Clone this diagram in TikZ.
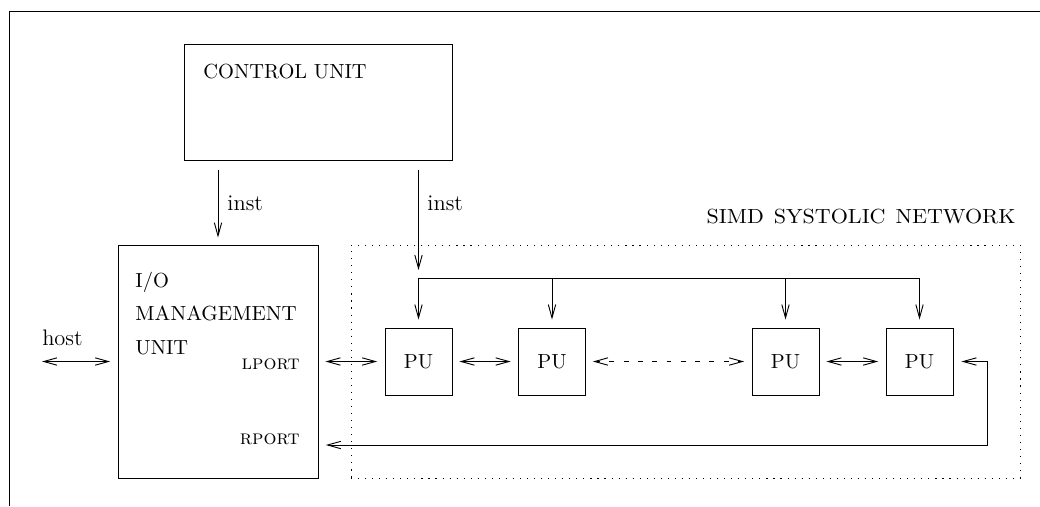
\documentclass[tikz,border=0pt]{standalone}
\usetikzlibrary{arrows.meta}
\begin{document}
\begin{tikzpicture}[x=0.49pt,y=-0.49pt,
  line width=0.45pt,
  >={Straight Barb[length=6.5pt,width=3.6pt]},
  box/.style={draw,rectangle,inner sep=0pt},
  pubox/.style={box,minimum width=32.83pt,minimum height=32.83pt},
  lbl/.style={inner sep=0pt},
  biglbl/.style={lbl,font=\fontsize{11}{13}\selectfont},
  dotbox/.style={draw,rectangle,inner sep=0pt,dash pattern=on 0.55pt off 2.9pt},
  gapS/.style={shorten <=3.4pt},
  gapE/.style={shorten >=3.6pt}]
\useasboundingbox (0,0) rectangle (1040,506);
% frame (cropped)
\draw (9,506) -- (9,11) -- (1040,11);
% boxes
\node[box,minimum width=131.32pt,minimum height=56.84pt] (cu) at (318,102) {};
\node[lbl,anchor=base west] (cutext) at (203,78) {CONTROL UNIT};
\node[box,minimum width=98pt,minimum height=114.17pt] (io) at (218,361.5) {};
\node[lbl,anchor=base west] (io1) at (135,287) {I/O};
\node[lbl,anchor=base west] (io2) at (135,320.5) {\scalebox{1.03}[1]{MANAGEMENT}};
\node[lbl,anchor=base west] (io3) at (135,354) {UNIT};
\node[lbl,anchor=base east] (lport) at (300,369.5) {\textsc{lport}};
\node[lbl,anchor=base east] (rport) at (300,444) {\textsc{rport}};
\node[dotbox,minimum width=327.81pt,minimum height=114.17pt] (sys) at (685.5,361.5) {};
\node[lbl,anchor=base east] (systext) at (1016,223) {\scalebox{1.08}[1]{SIMD\hspace{4.5pt}SYSTOLIC\hspace{4.5pt}NETWORK}};
\node[pubox] (pu1) at (418.5,361.5) {PU};
\node[pubox] (pu2) at (552,361.5) {PU};
\node[pubox] (pu3) at (785.5,361.5) {PU};
\node[pubox] (pu4) at (919.5,361.5) {PU};
% host
\coordinate (hostL) at (42,361.5);
\node[biglbl,anchor=base] (host) at (62.5,345) {host};
\draw[<->,gapE] (hostL) -- (io.west);
% inst arrows
\draw[->,shorten <=4.9pt,shorten >=3.4pt] (cu.south -| io.north) -- (io.north);
\node[biglbl,anchor=base west] (inst1) at (227,210) {inst};
\coordinate (busL) at (418.5,278);
\coordinate (busR) at (919.5,278);
\draw[->,shorten <=4.9pt,shorten >=3.9pt] (cu.south -| busL) -- (busL);
\node[biglbl,anchor=base west] (inst2) at (427,210) {inst};
% bus
\draw (busL) -- (busR);
\draw[->,shorten >=3.9pt] (busL) -- (pu1.north);
\draw[->,shorten >=3.9pt] (pu2.north |- busL) -- (pu2.north);
\draw[->,shorten >=3.9pt] (pu3.north |- busL) -- (pu3.north);
\draw[->,shorten >=3.9pt] (busR) -- (pu4.north);
% horizontal links
\draw[<->,gapS,gapE] (io.east) -- (pu1.west);
\draw[<->,gapS,gapE] (pu1.east) -- (pu2.west);
\draw[<->,gapS,gapE,dash pattern=on 2.4pt off 4.6pt] (pu2.east) -- (pu3.west);
\draw[<->,gapS,gapE] (pu3.east) -- (pu4.west);
% return path
\coordinate (ret1) at (987,361.5);
\coordinate (ret2) at (987,445);
\draw[<->,shorten <=3.9pt,gapE] (pu4.east) -- (ret1) -- (ret2) -- (ret2 -| io.east);
\end{tikzpicture}
\end{document}
